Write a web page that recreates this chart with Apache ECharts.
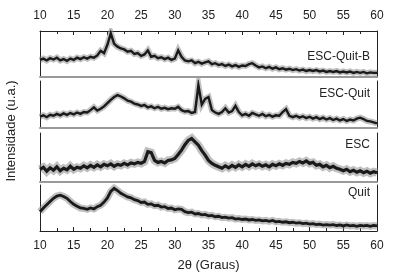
<!DOCTYPE html>
<html>
<head>
<meta charset="utf-8">
<script src="https://cdn.jsdelivr.net/npm/echarts@6/dist/echarts.min.js"></script>
<style>
  html, body { margin: 0; padding: 0; background: #fff; }
  #chart { width: 408px; height: 280px; }
</style>
</head>
<body>
<div id="chart"></div>
<script>
// 2θ sampling grid, 10..60 in 0.5 steps
const twoTheta = [];
for (let i = 0; i <= 100; i++) twoTheta.push(10 + i * 0.5);

// intensities, % of each panel height
const escQuitB = [37, 40, 36, 41, 38, 42, 36, 39, 35, 40, 37, 42, 39, 43, 40, 44, 42, 47, 57, 52,
  70, 95, 72, 66, 62, 60, 55, 57, 50, 52, 46, 49, 58, 44, 46, 41, 43, 39, 42, 37,
  40, 58, 44, 36, 34, 36, 30, 33, 29, 32, 34, 28, 30, 26, 28, 24, 27, 23, 26, 22,
  25, 24, 28, 30, 25, 21, 23, 19, 22, 18, 21, 17, 19, 16, 18, 15, 17, 14, 16, 13,
  15, 13, 15, 12, 14, 11, 13, 11, 13, 10, 12, 10, 12, 9, 11, 9, 11, 8, 10, 9, 9];
const escQuit = [24, 27, 23, 28, 26, 30, 27, 31, 28, 32, 29, 33, 30, 34, 33, 38, 44, 37, 41, 46,
  53, 60, 66, 70, 67, 63, 58, 56, 52, 50, 47, 49, 44, 46, 42, 45, 41, 43, 40, 42,
  41, 45, 38, 35, 36, 32, 34, 91, 50, 62, 66, 38, 33, 30, 34, 42, 33, 36, 47, 34,
  27, 30, 26, 32, 29, 26, 30, 25, 28, 24, 27, 26, 34, 40, 26, 23, 26, 22, 25, 21,
  24, 20, 23, 19, 22, 18, 21, 17, 20, 16, 19, 15, 18, 16, 20, 22, 19, 15, 14, 12, 10];
const esc = [26, 30, 22, 29, 24, 31, 23, 28, 25, 32, 26, 30, 28, 33, 29, 34, 30, 35, 31, 36,
  33, 37, 32, 36, 34, 38, 35, 39, 37, 40, 38, 42, 62, 60, 44, 40, 42, 39, 44, 45,
  48, 56, 65, 76, 85, 89, 82, 75, 64, 55, 44, 38, 34, 31, 28, 33, 29, 34, 30, 35,
  31, 36, 32, 37, 33, 36, 32, 35, 31, 36, 33, 37, 34, 38, 36, 40, 38, 42, 39, 43,
  38, 40, 34, 36, 31, 34, 29, 32, 28, 26, 23, 26, 21, 24, 20, 23, 19, 22, 18, 21, 19];
const quit = [42, 50, 57, 64, 71, 76, 78, 75, 71, 64, 58, 54, 50, 49, 47, 50, 48, 53, 56, 63,
  72, 86, 93, 88, 82, 78, 74, 72, 68, 66, 62, 63, 58, 59, 55, 56, 52, 53, 49, 50,
  46, 48, 47, 42, 40, 41, 37, 38, 35, 36, 33, 34, 31, 32, 29, 30, 28, 29, 26, 27,
  25, 26, 24, 25, 23, 24, 22, 23, 21, 23, 20, 21, 19, 20, 18, 19, 17, 18, 16, 17,
  15, 16, 14, 15, 13, 14, 13, 14, 12, 13, 11, 13, 11, 12, 10, 12, 11, 12, 10, 12, 11];

const panelNames = ['ESC-Quit-B', 'ESC-Quit', 'ESC', 'Quit'];
const panelData = [escQuitB, escQuit, esc, quit];

const FONT = '"Liberation Sans", Arial, sans-serif';
const panels = [
  { top: 31, height: 46, band: 6, core: 2.4 },
  { top: 81, height: 47, band: 6, core: 2.4 },
  { top: 133, height: 49, band: 8, core: 3.2 },
  { top: 185, height: 46, band: 7, core: 2.8 }
];

const chart = echarts.init(document.getElementById('chart'));

let grids = [], xAxes = [], yAxes = [], series = [], graphics = [];

panels.forEach((p, i) => {
  grids.push({ left: 40, right: 31, top: p.top, height: p.height });
  const last = i === panels.length - 1;
  // bottom x axis of each panel
  xAxes.push({
    type: 'value', gridIndex: i, min: 10, max: 60, interval: 5,
    axisLine: { show: true, onZero: false, lineStyle: { color: last ? '#222' : '#999', width: last ? 1 : 2 } },
    axisTick: { show: last, inside: true, length: 4, lineStyle: { color: '#222' } },
    minorTick: { show: last, splitNumber: 2, length: 3, lineStyle: { color: '#222' } },
    axisLabel: { show: last, color: '#222', fontSize: 12, fontFamily: FONT, margin: 9 },
    splitLine: { show: false },
    name: last ? '2θ (Graus)' : '',
    nameLocation: 'middle', nameGap: 28,
    nameTextStyle: { color: '#222', fontSize: 13, fontFamily: FONT }
  });
  yAxes.push({
    type: 'value', gridIndex: i, min: 0, max: 100,
    axisLine: { show: true, lineStyle: { color: '#222' } },
    axisTick: { show: false }, axisLabel: { show: false }, splitLine: { show: false }
  });
  yAxes.push({
    type: 'value', gridIndex: i, min: 0, max: 100, position: 'right',
    axisLine: { show: true, lineStyle: { color: '#222' } },
    axisTick: { show: false }, axisLabel: { show: false }, splitLine: { show: false }
  });
  const pts = twoTheta.map((x, k) => [x, panelData[i][k]]);
  // grey scatter band behind the trace
  series.push({
    type: 'line', xAxisIndex: i, yAxisIndex: i * 2, data: pts,
    showSymbol: false, silent: true,
    lineStyle: { color: 'rgba(140,140,140,0.55)', width: p.band, join: 'miter' }
  });
  series.push({
    name: panelNames[i], type: 'line', xAxisIndex: i, yAxisIndex: i * 2, data: pts,
    showSymbol: false, silent: true,
    lineStyle: { color: '#1a1a1a', width: p.core, join: 'miter' }
  });
});

// top axis with labels on the first panel
xAxes.push({
  type: 'value', gridIndex: 0, position: 'top', min: 10, max: 60, interval: 5,
  axisLine: { show: true, onZero: false, lineStyle: { color: '#222' } },
  axisTick: { show: true, inside: true, length: 4, lineStyle: { color: '#222' } },
  minorTick: { show: true, splitNumber: 2, length: 3, lineStyle: { color: '#222' } },
  axisLabel: { color: '#222', fontSize: 12, fontFamily: FONT, margin: 9 },
  splitLine: { show: false }
});

const labelY = [57, 94, 145, 193];
panelNames.forEach((n, i) => {
  graphics.push({
    type: 'text', x: 370, y: labelY[i],
    style: { text: n, fill: '#222', font: '12px ' + FONT, textAlign: 'right', textVerticalAlign: 'middle' }
  });
});
graphics.push({
  type: 'text', x: 11, y: 131, rotation: Math.PI / 2,
  style: { text: 'Intensidade (u.a.)', fill: '#222', font: '13px ' + FONT, textAlign: 'center', textVerticalAlign: 'middle' }
});

chart.setOption({
  animation: false,
  grid: grids,
  xAxis: xAxes,
  yAxis: yAxes,
  series: series,
  graphic: graphics
});
</script>
</body>
</html>
